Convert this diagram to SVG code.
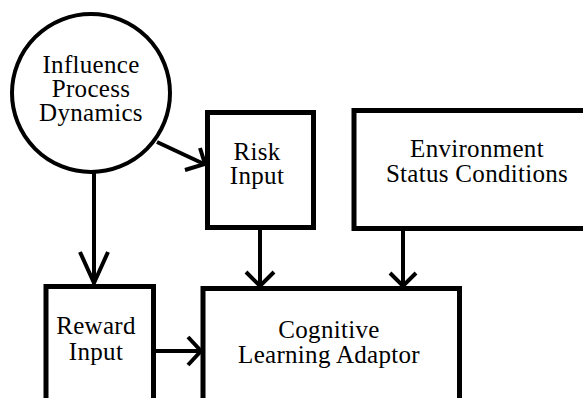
<svg xmlns="http://www.w3.org/2000/svg" width="583" height="398" viewBox="0 0 583 398">
<style>
.box{fill:#fff;stroke:#000;stroke-width:5}
.circ{fill:#fff;stroke:#000;stroke-width:4}
.ln{fill:none;stroke:#000;stroke-width:4}
.hd{fill:none;stroke:#000;stroke-width:4;stroke-linejoin:miter}
.t{font-family:'Liberation Serif','DejaVu Serif',serif;font-size:25px;letter-spacing:0.3px;fill:#000;text-anchor:middle}
</style>
<rect width="583" height="398" fill="#fff"/>
<g id="connectors">
<line class="ln" x1="94" y1="172" x2="94" y2="282"/>
<polyline class="hd" points="80,252 94,283 108,252"/>
<line class="ln" x1="157" y1="142" x2="204" y2="164"/>
<polyline class="hd" points="200,148 205,164 185,170"/>
<line class="ln" x1="260" y1="228" x2="260" y2="285"/>
<polyline class="hd" points="246,272 260,286 274,272"/>
<line class="ln" x1="403" y1="228" x2="403" y2="285"/>
<polyline class="hd" points="390,273 403,286 416,273"/>
<line class="ln" x1="154" y1="351" x2="200" y2="351"/>
<polyline class="hd" points="188,337 201,351 188,365"/>
</g>
<g id="influence">
<circle class="circ" cx="91" cy="93" r="79"/>
<text class="t" x="91" y="73">Influence</text>
<text class="t" x="91" y="97">Process</text>
<text class="t" x="91" y="121">Dynamics</text>
</g>
<g id="risk">
<rect class="box" x="207.5" y="112.5" width="106" height="115"/>
<text class="t" x="257" y="160">Risk</text>
<text class="t" x="257" y="184">Input</text>
</g>
<g id="environment">
<rect class="box" x="354" y="110.5" width="240" height="118"/>
<text class="t" x="477" y="157">Environment</text>
<text class="t" x="477" y="182">Status Conditions</text>
</g>
<g id="reward">
<rect class="box" x="46" y="286.5" width="107.5" height="130"/>
<text class="t" x="96" y="334">Reward</text>
<text class="t" x="96" y="360">Input</text>
</g>
<g id="cognitive">
<rect class="box" x="203" y="288.5" width="256.5" height="130"/>
<text class="t" x="329" y="338">Cognitive</text>
<text class="t" x="329" y="363">Learning Adaptor</text>
</g>
</svg>
